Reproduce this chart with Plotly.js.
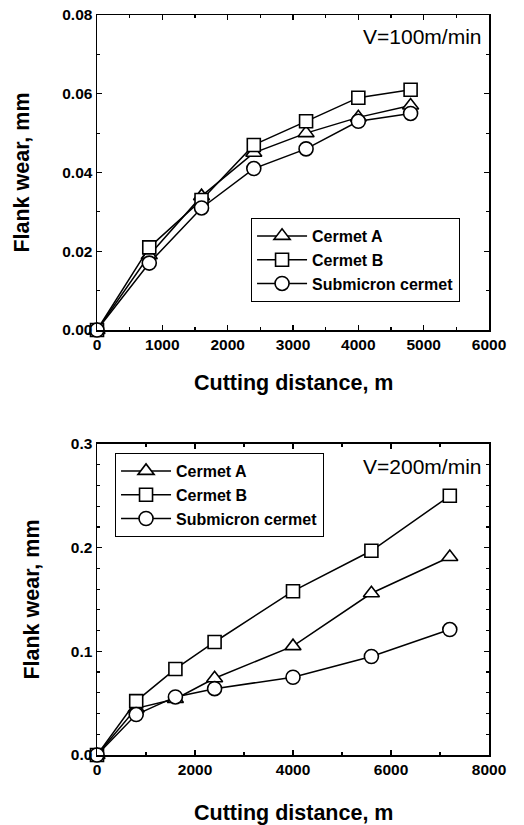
<!DOCTYPE html>
<html>
<head>
<meta charset="utf-8">
<script src="https://cdn.plot.ly/plotly-3.0.1.min.js"></script>
<style>html,body{margin:0;padding:0;background:#fff;}#chart{width:524px;height:825px;}</style>
</head>
<body>
<div id="chart"></div>
<script>
// Top panel: V=100 m/min
const distTop = [0, 800, 1600, 2400, 3200, 4000, 4800];
const cermetA_top = [0, 0.019, 0.034, 0.045, 0.050, 0.054, 0.057];
const cermetB_top = [0, 0.021, 0.033, 0.047, 0.053, 0.059, 0.061];
const submicron_top = [0, 0.017, 0.031, 0.041, 0.046, 0.053, 0.055];

// Bottom panel: V=200 m/min
const distBot = [0, 800, 1600, 2400, 4000, 5600, 7200];
const cermetA_bot = [0, 0.045, 0.054, 0.074, 0.105, 0.156, 0.191];
const cermetB_bot = [0, 0.052, 0.083, 0.109, 0.158, 0.197, 0.250];
const submicron_bot = [0, 0.039, 0.056, 0.064, 0.075, 0.095, 0.121];

const seriesNames = ['Cermet A', 'Cermet B', 'Submicron cermet'];
const symbols = ['triangle-up', 'square', 'circle'];
const markerSizes = [14, 13, 14];

const FONT = 'Liberation Sans, Arial, sans-serif';

function mk(x, y, i, xa, ya, leg) {
  return {
    x: x, y: y, name: seriesNames[i], type: 'scatter', mode: 'lines+markers',
    xaxis: xa, yaxis: ya, legend: leg, legendgroup: leg + i, cliponaxis: false,
    line: {color: '#000', width: 1.5},
    marker: {symbol: symbols[i], size: markerSizes[i], color: '#fff',
             line: {color: '#000', width: 1.6}}
  };
}

const traces = [
  mk(distTop, cermetA_top, 0, 'x', 'y', 'legend'),
  mk(distTop, cermetB_top, 1, 'x', 'y', 'legend'),
  mk(distTop, submicron_top, 2, 'x', 'y', 'legend'),
  mk(distBot, cermetA_bot, 0, 'x2', 'y2', 'legend2'),
  mk(distBot, cermetB_bot, 1, 'x2', 'y2', 'legend2'),
  mk(distBot, submicron_bot, 2, 'x2', 'y2', 'legend2')
];

const axCommon = {
  showline: true, linecolor: '#000', linewidth: 1.5, mirror: 'ticks',
  ticks: 'inside', ticklen: 5, tickwidth: 1.2, tickcolor: '#000',
  showgrid: false, zeroline: false,
  tickfont: {family: FONT, size: 15.5, color: '#000', weight: 'bold'}
};

const legCommon = {
  xanchor: 'left', yanchor: 'top',
  bordercolor: '#000', borderwidth: 1, bgcolor: '#fff',
  font: {family: FONT, size: 16, color: '#000', weight: 'bold'},
  tracegroupgap: 7, itemwidth: 50, traceorder: 'normal'
};

const titleFont = {family: FONT, size: 21.5, color: '#000', weight: 'bold'};

const layout = {
  width: 524, height: 825,
  margin: {l: 97, r: 35, t: 15, b: 70},
  paper_bgcolor: '#fff', plot_bgcolor: '#fff',
  font: {family: FONT, color: '#000'},
  xaxis: Object.assign({}, axCommon, {
    domain: [0, 1], anchor: 'y', range: [0, 6000], dtick: 1000, tickformat: 'd',
    minor: {dtick: 500, ticks: 'inside', ticklen: 3, tickcolor: '#000'}
  }),
  yaxis: Object.assign({}, axCommon, {
    domain: [0.5743, 1], anchor: 'x', range: [0, 0.08], dtick: 0.02, tickformat: '.2f',
    minor: {dtick: 0.01, ticks: 'inside', ticklen: 3, tickcolor: '#000'}
  }),
  xaxis2: Object.assign({}, axCommon, {
    domain: [0, 1], anchor: 'y2', range: [0, 8000], dtick: 2000, tickformat: 'd',
    minor: {dtick: 1000, ticks: 'inside', ticklen: 3, tickcolor: '#000'}
  }),
  yaxis2: Object.assign({}, axCommon, {
    domain: [0, 0.4203], anchor: 'x2', range: [0, 0.3], dtick: 0.1, tickformat: '.1f',
    minor: {dtick: 0.02, ticks: 'inside', ticklen: 3, tickcolor: '#000'}
  }),
  legend: Object.assign({}, legCommon, {x: 0.393, y: 0.7257}),
  legend2: Object.assign({}, legCommon, {x: 0.046, y: 0.4081}),
  annotations: [
    {text: 'V=100m/min', xref: 'paper', yref: 'paper', x: 0.985, y: 0.9703,
     xanchor: 'right', yanchor: 'middle', showarrow: false,
     font: {family: FONT, size: 21, color: '#000'}},
    {text: 'V=200m/min', xref: 'paper', yref: 'paper', x: 0.985, y: 0.3905,
     xanchor: 'right', yanchor: 'middle', showarrow: false,
     font: {family: FONT, size: 21, color: '#000'}},
    {text: 'Cutting distance, m', xref: 'paper', yref: 'paper', x: 0.5, y: (825 - 383 - 70) / 740,
     xanchor: 'center', yanchor: 'middle', showarrow: false, font: titleFont},
    {text: 'Cutting distance, m', xref: 'paper', yref: 'paper', x: 0.5, y: (825 - 813 - 70) / 740,
     xanchor: 'center', yanchor: 'middle', showarrow: false, font: titleFont},
    {text: 'Flank wear, mm', xref: 'paper', yref: 'paper', x: (22 - 97) / 392, y: 0.787,
     xanchor: 'center', yanchor: 'middle', showarrow: false, textangle: -90, font: titleFont},
    {text: 'Flank wear, mm', xref: 'paper', yref: 'paper', x: (32 - 97) / 392, y: 0.21,
     xanchor: 'center', yanchor: 'middle', showarrow: false, textangle: -90, font: titleFont}
  ],
  showlegend: true
};

Plotly.newPlot('chart', traces, layout, {displayModeBar: false, staticPlot: true});
</script>
</body>
</html>
